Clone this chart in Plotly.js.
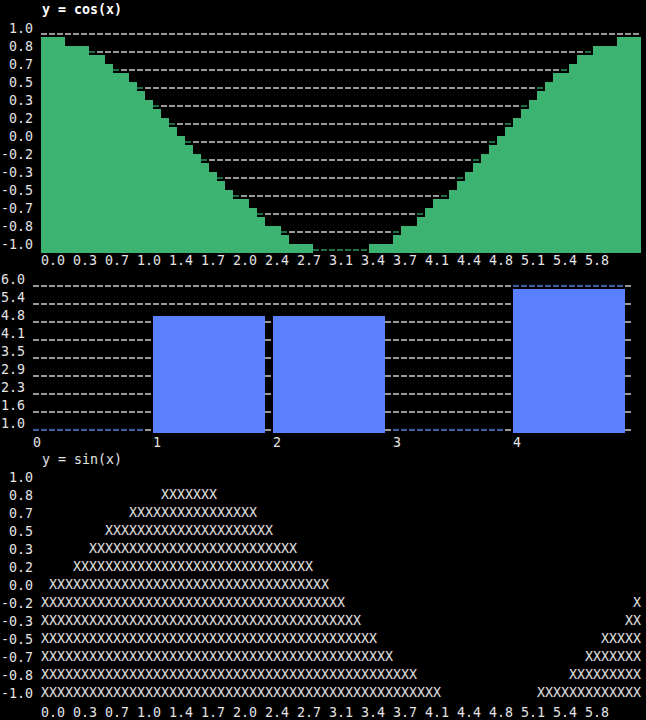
<!DOCTYPE html>
<html>
<head>
<meta charset="utf-8">
<script src="https://cdn.plot.ly/plotly-3.0.1.min.js"></script>
<style>html,body{margin:0;padding:0;background:#000;}</style>
</head>
<body>
<div id="chart" style="width:646px;height:720px;"></div>
<script>
// ---------- top panel: y = cos(x) (one value per terminal column) ----------
const cosTitle = "y = cos(x)";
const cosValues = [
  1, 1, 1, 0.917, 0.917, 0.917, 0.833, 0.833, 0.75, 0.667,
  0.667, 0.583, 0.5, 0.417, 0.333, 0.25, 0.167, 0.083, 0, -0.083,
  -0.167, -0.25, -0.333, -0.417, -0.5, -0.5, -0.583, -0.667, -0.75, -0.75,
  -0.833, -0.917, -0.917, -0.917, -1, -1, -1, -1, -1, -1,
  -1, -0.917, -0.917, -0.917, -0.833, -0.75, -0.75, -0.667, -0.583, -0.5,
  -0.5, -0.417, -0.333, -0.25, -0.167, -0.083, 0, 0.083, 0.167, 0.25,
  0.333, 0.417, 0.5, 0.583, 0.667, 0.667, 0.75, 0.833, 0.833, 0.917,
  0.917, 0.917, 1, 1, 1
];
const xTickLabels = ["0.0","0.3","0.7","1.0","1.4","1.7","2.0","2.4","2.7","3.1","3.4","3.7","4.1","4.4","4.8","5.1","5.4","5.8"];
const unitYTickLabels = ["1.0","0.8","0.7","0.5","0.3","0.2","0.0","-0.2","-0.3","-0.5","-0.7","-0.8","-1.0"];

// ---------- middle panel: bars ----------
const barCategories = [0, 1, 2, 3, 4];
const barValues = [1, 5.06, 5.06, 1, 6];
const barYTickLabels = ["6.0","5.4","4.8","4.1","3.5","2.9","2.3","1.6","1.0"];

// ---------- bottom panel: y = sin(x) (top filled row per column, null = empty) ----------
const sinTitle = "y = sin(x)";
const sinTopValues = [
  -0.167, 0, 0, 0, 0.167, 0.167, 0.333, 0.333, 0.5, 0.5,
  0.5, 0.667, 0.667, 0.667, 0.667, 0.833, 0.833, 0.833, 0.833, 0.833,
  0.833, 0.833, 0.667, 0.667, 0.667, 0.667, 0.667, 0.5, 0.5, 0.333,
  0.333, 0.333, 0.167, 0.167, 0, 0, -0.167, -0.167, -0.333, -0.333,
  -0.5, -0.5, -0.667, -0.667, -0.833, -0.833, -0.833, -1, -1, -1,
  null, null, null, null, null, null, null, null, null, null,
  null, null, -1, -1, -1, -1, -0.833, -0.833, -0.667, -0.667,
  -0.5, -0.5, -0.5, -0.333, -0.167
];

// ---------- layout helpers ----------
const W = 646, H = 720;
const FONT = "DejaVu Sans Mono, monospace";
const FS = 13.3;
const TXT = "#e4e4e4";
const GREEN = "#3cb371";
const GREEN_DIM = "#1f6e44";
const BLUE = "#5b80ff";
const BLUE_DIM = "#34509f";
const GRID = "#9a9a9a";
const DASH = "6px,2px";
const fx = p => p / W;
const fy = p => 1 - p / H;

const nCols = cosValues.length;
const colIdx = cosValues.map((_, i) => i);
const xTickPos = xTickLabels.map((_, k) => 4 * k + 1);
const rowVals = unitYTickLabels.map((_, k) => 1 - k / 6);

// top y: value -1 at px 253, 108 px per unit; grid sits 3px above each level
const topBottomPx = 253, topTopPx = 20, topPxPerUnit = 108;
const unitTickVals = rowVals.map(v => v + 3 / topPxPerUnit);

// middle y: value 1 at px 433, 28.8 px per unit
const midBottomPx = 433, midTopPx = 275, midPxPerUnit = 28.8;
const barTickVals = barYTickLabels.map((_, k) => 6 - 0.625 * k + 3.3 / midPxPerUnit);
const barWidth = 14 / 15;

// top panel: grid cells at the edge of the fill (or resting on an empty column) are tinted green
const cosTint = {xs: [], ys: []};
rowVals.forEach((rv, k) => {
  const vis = cosValues.map(v => v <= rv + 0.01);
  cosValues.forEach((v, c) => {
    if (!vis[c]) return;
    const edge = (c > 0 && !vis[c - 1]) || (c < nCols - 1 && !vis[c + 1]);
    const emptyOnFloor = v <= -1 + 0.01 && Math.abs(rv - v) < 0.01;
    if (edge || emptyOnFloor) {
      cosTint.xs.push(c - 0.5, c + 0.5, null);
      cosTint.ys.push(unitTickVals[k], unitTickVals[k], null);
    }
  });
});

// middle panel: grid line resting right on a bar top is tinted blue
const barTint = {xs: [], ys: []};
barValues.forEach((v, i) => {
  const g = barTickVals.find(t => t - v > 0 && t - v <= 4 / midPxPerUnit);
  if (g === undefined) return;
  barTint.xs.push(barCategories[i], barCategories[i] + barWidth, null);
  barTint.ys.push(g, g, null);
});

// bottom panel: X cells
const sx = [], sy = [], st = [];
sinTopValues.forEach((top, c) => {
  if (top === null) return;
  rowVals.forEach(rv => {
    if (rv <= top + 0.02) { sx.push(c); sy.push(rv); st.push("X"); }
  });
});

const tickFont = {family: FONT, size: FS, color: TXT};

const traces = [
  {
    type: "bar", x: colIdx, y: cosValues.map(v => v + 1), base: -1,
    width: 1, marker: {color: GREEN, line: {width: 0}},
    xaxis: "x", yaxis: "y", hoverinfo: "skip", showlegend: false
  },
  {
    type: "scatter", mode: "lines", x: cosTint.xs, y: cosTint.ys, connectgaps: false,
    line: {color: GREEN_DIM, width: 2, dash: DASH},
    xaxis: "x", yaxis: "y", hoverinfo: "skip", showlegend: false
  },
  {
    type: "bar", x: barCategories, y: barValues.map(v => v - 1), base: 1,
    width: barWidth, offset: 0, marker: {color: BLUE, line: {width: 0}},
    xaxis: "x2", yaxis: "y2", hoverinfo: "skip", showlegend: false
  },
  {
    type: "scatter", mode: "lines", x: barTint.xs, y: barTint.ys, connectgaps: false,
    line: {color: BLUE_DIM, width: 2, dash: DASH},
    xaxis: "x2", yaxis: "y2", hoverinfo: "skip", showlegend: false
  },
  {
    type: "scatter", mode: "text", x: sx, y: sy, text: st,
    textposition: "middle center",
    textfont: {family: FONT, size: FS, color: TXT},
    xaxis: "x3", yaxis: "y3", hoverinfo: "skip", showlegend: false
  }
];

const gridStyle = {showgrid: true, gridcolor: GRID, gridwidth: 2, griddash: DASH};

const layout = {
  width: W, height: H,
  margin: {l: 0, r: 0, t: 0, b: 0, pad: 0},
  paper_bgcolor: "#000", plot_bgcolor: "#000",
  font: {family: FONT, size: FS, color: TXT},
  showlegend: false,
  bargap: 0,
  xaxis: {
    domain: [fx(41), fx(641)], range: [-0.5, nCols - 0.5], anchor: "y",
    tickmode: "array", tickvals: xTickPos, ticktext: xTickLabels,
    showgrid: false, zeroline: false, showline: false, ticks: "",
    tickfont: tickFont, ticklabelstandoff: -2, fixedrange: true
  },
  yaxis: Object.assign({
    domain: [fy(topBottomPx), fy(topTopPx)],
    range: [-1, -1 + (topBottomPx - topTopPx) / topPxPerUnit], anchor: "x",
    tickmode: "array", tickvals: unitTickVals, ticktext: unitYTickLabels,
    zeroline: false, showline: false, ticks: "", tickfont: tickFont,
    ticklabelshift: -6, ticklabelstandoff: 7, fixedrange: true
  }, gridStyle),
  xaxis2: {
    domain: [fx(33), fx(633)], range: [0, 5], anchor: "y2",
    tickmode: "array", tickvals: barCategories, ticktext: barCategories.map(String),
    showgrid: false, zeroline: false, showline: false, ticks: "",
    tickfont: tickFont, ticklabelshift: 4, fixedrange: true
  },
  yaxis2: Object.assign({
    domain: [fy(midBottomPx), fy(midTopPx)],
    range: [1, 1 + (midBottomPx - midTopPx) / midPxPerUnit], anchor: "x2",
    tickmode: "array", tickvals: barTickVals, ticktext: barYTickLabels,
    zeroline: false, showline: false, ticks: "", tickfont: tickFont,
    ticklabelshift: -6, ticklabelstandoff: 7, fixedrange: true
  }, gridStyle),
  xaxis3: {
    domain: [fx(41), fx(641)], range: [-0.5, nCols - 0.5], anchor: "y3",
    tickmode: "array", tickvals: xTickPos, ticktext: xTickLabels,
    showgrid: false, zeroline: false, showline: false, ticks: "",
    tickfont: tickFont, fixedrange: true
  },
  yaxis3: {
    domain: [fy(702.7), fy(468.7)], range: [-1 - 0.5 / 6, 1 + 0.5 / 6], anchor: "x3",
    tickmode: "array", tickvals: rowVals, ticktext: unitYTickLabels,
    showgrid: false, zeroline: false, showline: false, ticks: "",
    tickfont: tickFont, ticklabelstandoff: 7, fixedrange: true
  },
  annotations: [
    {text: "<b>" + cosTitle + "</b>", xref: "paper", yref: "paper",
     x: fx(40), y: fy(10), xanchor: "left", yanchor: "middle", showarrow: false,
     font: {family: FONT, size: FS, color: "#ffffff"}},
    {text: sinTitle, xref: "paper", yref: "paper",
     x: fx(40), y: fy(460), xanchor: "left", yanchor: "middle", showarrow: false,
     font: {family: FONT, size: FS, color: TXT}}
  ]
};

Plotly.newPlot("chart", traces, layout, {staticPlot: true, displayModeBar: false});
</script>
</body>
</html>
